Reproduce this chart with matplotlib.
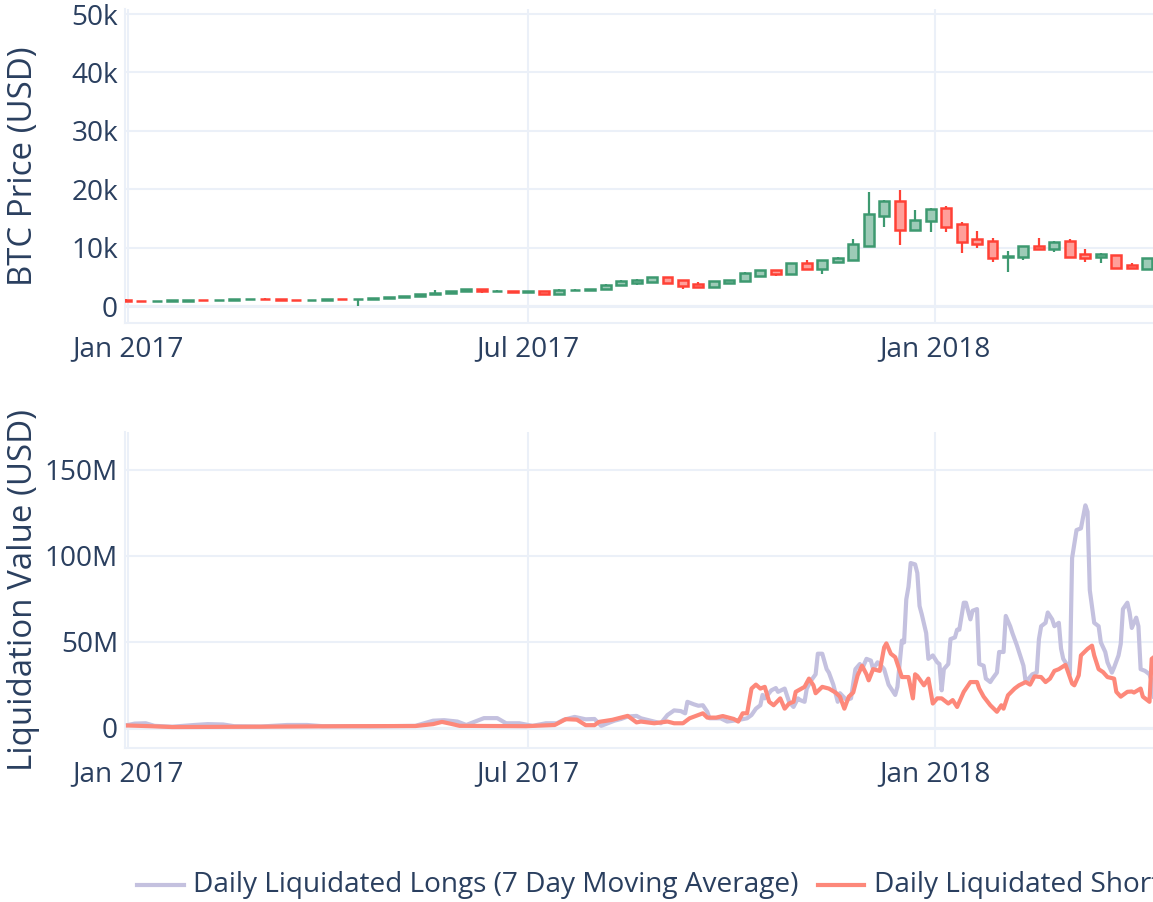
import matplotlib.pyplot as plt
import matplotlib.dates as mdates
from matplotlib.lines import Line2D
import numpy as np
import pandas as pd

plt.rcParams['font.family'] = ['Open Sans', 'DejaVu Sans']

# Candele settimanali BTC (USD), una ogni 7 giorni a partire da week_start
week_start = "2016-12-31"
opens = [960, 900, 820, 890, 915, 1005, 990, 1045, 1170, 1260, 1180, 1080, 960, 1070,
         1180, 1170, 1240, 1350, 1550, 1760, 2030, 2200, 2520, 2900, 2500, 2600, 2450,
         2550, 2050, 2700, 2780, 2880, 3600, 3950, 4050, 4950, 4400, 3800, 3300, 3950,
         4200, 5150, 6150, 5450, 7450, 6350, 7550, 7950, 10350, 15400, 17900, 13100,
         14500, 16700, 14000, 11400, 11100, 8450, 8400, 10200, 9700, 11100, 8900, 8400,
         8700, 7000, 6350]
highs = [1150, 910, 900, 925, 1010, 1040, 1050, 1180, 1280, 1290, 1250, 1100, 1080, 1200,
         1220, 1260, 1360, 1560, 1780, 2050, 2700, 2550, 2950, 2980, 2760, 2620, 2620,
         2600, 2900, 2900, 2950, 3700, 4400, 4550, 4980, 5000, 4450, 4050, 4350, 4500,
         5850, 6200, 6200, 7450, 7800, 7950, 8350, 11400, 19600, 18100, 19800, 16400,
         16700, 17050, 14300, 12900, 11600, 9400, 10250, 11600, 11050, 11500, 9700, 9100,
         8800, 7400, 8250]
lows = [880, 760, 810, 880, 910, 940, 980, 1040, 1160, 1120, 1060, 900, 950, 1060,
        1160, 50, 1230, 1340, 1540, 1740, 1900, 2100, 2450, 2250, 2450, 2300, 2400,
        1880, 1850, 2600, 2650, 2850, 3500, 3600, 4000, 3900, 2950, 3300, 3250, 3900,
        4150, 5100, 5200, 5400, 6300, 5450, 7500, 7900, 10300, 13500, 10400, 13000,
        12600, 12700, 9000, 10000, 7500, 5900, 7800, 9650, 9300, 8350, 7600, 7300,
        6500, 6400, 6300]
closes = [900, 820, 890, 915, 1005, 990, 1045, 1170, 1260, 1180, 1080, 960, 1070, 1180,
          1170, 1240, 1350, 1550, 1760, 2030, 2200, 2520, 2900, 2500, 2600, 2450, 2520,
          2050, 2750, 2780, 2880, 3650, 4250, 4450, 4950, 3950, 3350, 3330, 4300, 4480,
          5700, 6150, 5450, 7400, 6350, 7900, 8300, 10700, 15800, 17900, 13100, 14700,
          16600, 13500, 11000, 10600, 8200, 8600, 10200, 9700, 11000, 8400, 8300, 8900,
          6550, 6450, 8200]

# Liquidazioni giornaliere: giorni dal 2017-01-01, valori in milioni di USD
day_zero = "2017-01-01"
long_days = [0, 3, 8, 12, 20, 30, 36, 43, 48, 60, 72, 81, 88, 110, 130, 138, 143, 149,
             153, 161, 167, 171, 177, 183, 189, 194, 197, 202, 207, 211, 214, 220, 223,
             226, 230, 232, 238, 241, 244, 247, 250, 252, 253, 256, 258, 260, 262, 263,
             268, 271, 276, 280, 282, 284, 286, 287, 288, 291, 293, 294, 297, 299, 301,
             303, 304, 306, 307, 309, 311, 312, 314, 316, 317, 319, 321, 322, 325, 327,
             329, 331, 332, 334, 336, 337, 339, 340, 342, 344, 347, 348, 350, 351, 352,
             353, 354, 356, 357, 358, 359, 361, 362, 364, 366, 367, 368, 369, 371, 372,
             374, 375, 376, 378, 379, 381, 382, 384, 385, 387, 388, 390, 391, 393, 394,
             396, 397, 399, 400, 402, 403, 405, 406, 409, 411, 412, 413, 415, 416, 418,
             419, 421, 422, 423, 425, 426, 427, 428, 429, 431, 432, 433, 434, 435, 437,
             439, 440, 442, 443, 445, 446, 448, 449, 450, 452, 453, 454, 456, 457, 458,
             460, 462, 463, 464]
long_vals = [1.5, 2.3, 2.5, 1.0, 0.5, 1.5, 2.0, 1.8, 0.8, 0.6, 1.5, 1.5, 0.8, 0.7, 1.0,
             4.0, 4.3, 3.5, 1.5, 5.5, 5.5, 2.5, 2.5, 1.0, 2.5, 2.5, 4.5, 6.2, 4.8, 5.0,
             1.0, 4.0, 5.0, 6.4, 6.8, 5.4, 3.5, 2.5, 7.3, 10.0, 9.6, 8.3, 15.0, 13.5,
             12.7, 13.0, 9.2, 5.4, 5.4, 3.5, 4.4, 5.4, 7.3, 11.0, 13.0, 19.0, 17.0, 21.7,
             23.0, 20.8, 22.7, 15.0, 12.0, 17.0, 16.0, 15.0, 22.7, 27.5, 31.0, 43.0, 43.0,
             34.0, 32.0, 25.0, 15.0, 20.0, 16.0, 17.0, 34.0, 37.0, 34.0, 40.0, 39.0, 34.0,
             38.0, 37.0, 34.0, 25.0, 19.0, 23.7, 50.6, 49.6, 74.6, 82.0, 95.8, 95.0, 90.0,
             70.8, 66.0, 55.0, 40.0, 42.0, 38.0, 37.0, 21.7, 34.0, 37.0, 51.5, 52.5, 57.0,
             57.0, 72.7, 72.7, 63.0, 68.0, 69.0, 37.0, 36.0, 28.5, 26.5, 28.5, 32.0, 44.0,
             44.0, 65.0, 59.0, 55.0, 48.0, 44.0, 36.0, 26.5, 31.0, 32.0, 51.5, 59.0, 61.0,
             67.0, 63.0, 59.0, 61.0, 46.0, 40.0, 36.0, 31.0, 98.7, 107.0, 115.0, 116.0,
             122.7, 129.4, 125.6, 80.0, 61.0, 59.0, 49.6, 44.0, 38.0, 32.0, 35.0, 42.0,
             48.7, 69.0, 72.7, 67.0, 58.0, 64.0, 59.0, 34.0, 33.0, 31.0, 27.0, 18.0]
short_days = [0, 10, 20, 60, 100, 130, 138, 142, 146, 150, 180, 193, 198, 203, 207, 211,
              213, 219, 226, 230, 232, 238, 244, 247, 251, 254, 260, 262, 266, 269, 274,
              276, 278, 280, 282, 284, 286, 288, 290, 292, 295, 297, 299, 301, 302, 306,
              308, 310, 311, 314, 317, 320, 322, 324, 326, 328, 330, 332, 334, 335, 337,
              340, 342, 343, 345, 347, 350, 353, 355, 356, 357, 360, 362, 364, 366, 368,
              371, 373, 375, 378, 379, 381, 384, 385, 387, 390, 393, 395, 396, 398, 401,
              403, 406, 408, 410, 413, 415, 417, 419, 421, 424, 425, 427, 428, 430, 431,
              434, 436, 437, 439, 441, 443, 446, 447, 449, 452, 454, 455, 458, 459, 462,
              463, 464]
short_vals = [1.2, 0.8, 0.3, 0.5, 0.8, 0.9, 2.0, 3.3, 2.2, 1.0, 0.8, 1.5, 4.9, 4.6, 1.4,
              1.4, 3.3, 4.5, 6.8, 3.0, 3.5, 2.5, 3.5, 2.5, 2.5, 5.4, 8.3, 5.8, 5.8, 6.7,
              5.0, 3.5, 8.3, 8.3, 22.7, 25.0, 22.7, 23.7, 15.0, 13.0, 17.0, 11.0, 14.0,
              15.0, 20.8, 23.7, 28.5, 24.6, 20.0, 23.7, 22.7, 20.4, 18.0, 11.0, 18.0, 20.4,
              30.4, 36.0, 31.0, 27.5, 34.0, 33.0, 46.7, 49.0, 43.0, 41.0, 29.4, 29.4, 17.0,
              31.0, 30.0, 24.6, 28.5, 14.0, 17.0, 17.0, 14.0, 16.0, 12.0, 20.8, 22.7, 26.5,
              26.5, 22.7, 18.0, 13.0, 9.2, 13.0, 11.0, 18.8, 22.7, 24.6, 26.5, 25.0, 29.8,
              29.4, 26.5, 28.5, 33.0, 34.0, 36.5, 33.0, 25.6, 24.6, 30.4, 42.0, 45.8, 47.7,
              42.0, 34.0, 32.3, 29.4, 28.5, 20.8, 18.0, 20.8, 21.0, 20.4, 22.7, 18.0, 15.0,
              40.0, 41.0]

text_color = '#2a3f5f'
grid_color = '#EBF0F8'
up_color = '#3D9970'
down_color = '#FF4136'

fig = plt.figure(figsize=(11.53, 9.02), dpi=100)
W, H = 1153, 902
ax1 = fig.add_axes([125 / W, 1 - 323 / H, (W - 125) / W, 314 / H])
ax2 = fig.add_axes([125 / W, 1 - 748 / H, (W - 125) / W, 316 / H])

# --- candlestick ---
o = np.array(opens)
h = np.array(highs)
l = np.array(lows)
c = np.array(closes)
weeks = pd.date_range(week_start, periods=len(o), freq='7D')
xw = mdates.date2num(weeks)
cols = [up_color if cc >= oo else down_color for oo, cc in zip(o, c)]
ax1.vlines(xw, l, h, colors=cols, linewidth=1.6, zorder=3)
for xi, oo, cc, col in zip(xw, o, c, cols):
    ax1.bar(xi, max(abs(cc - oo), 60), bottom=min(oo, cc), width=4.5,
            facecolor=(1, 1, 1, 1), edgecolor=col, linewidth=1.8, zorder=4)
    ax1.bar(xi, max(abs(cc - oo), 60), bottom=min(oo, cc), width=4.5,
            facecolor=col, alpha=0.5, edgecolor='none', zorder=5)
ax1.set_ylim(-2910, 50860)
ax1.set_yticks([0, 10000, 20000, 30000, 40000, 50000])
ax1.set_yticklabels(['0', '10k', '20k', '30k', '40k', '50k'])
ax1.set_ylabel('BTC Price (USD)')

# --- liquidations ---
d0 = pd.Timestamp(day_zero)
long_dates = d0 + pd.to_timedelta(long_days, unit='D')
short_dates = d0 + pd.to_timedelta(short_days, unit='D')
ax2.plot(long_dates, np.array(long_vals) * 1e6, color='#c4c1df', linewidth=3.0,
         solid_joinstyle='round', zorder=3)
ax2.plot(short_dates, np.array(short_vals) * 1e6, color='#fd887a', linewidth=3.0,
         solid_joinstyle='round', zorder=4)
ax2.set_ylim(-11.9e6, 172.1e6)
ax2.set_yticks([0, 50e6, 100e6, 150e6])
ax2.set_yticklabels(['0', '50M', '100M', '150M'])
ax2.set_ylabel('Liquidation Value (USD)')

x_left = mdates.date2num(d0) + (125 - 128) / 2.211
x_right = mdates.date2num(d0) + (1153 - 128) / 2.211
tick_dates = pd.to_datetime(['2017-01-01', '2017-07-01', '2018-01-01'])

for ax in (ax1, ax2):
    ax.set_xlim(x_left, x_right)
    ax.set_xticks(mdates.date2num(tick_dates))
    ax.set_xticklabels(['Jan 2017', 'Jul 2017', 'Jan 2018'])
    ax.grid(True, color=grid_color, linewidth=1.5, zorder=0)
    ax.set_axisbelow(True)
    ax.axhline(0, color=grid_color, linewidth=2.2, zorder=1)
    for s in ('top', 'right'):
        ax.spines[s].set_visible(False)
    for s in ('left', 'bottom'):
        ax.spines[s].set_color(grid_color)
        ax.spines[s].set_linewidth(1.5)
    ax.tick_params(axis='both', length=0, labelsize=20.2, labelcolor=text_color)
    ax.tick_params(axis='y', pad=5)
    ax.tick_params(axis='x', pad=9)
    ax.yaxis.label.set_color(text_color)
    ax.yaxis.label.set_fontsize(23.8)
    ax.yaxis.set_label_coords(-0.083, 0.5)

# --- legenda (tagliata sul bordo destro come nell'originale) ---
ly = 1 - 885 / H
fig.add_artist(Line2D([137 / W, 184 / W], [ly, ly], color='#c4c1df', linewidth=3.0))
fig.text(193 / W, ly, 'Daily Liquidated Longs (7 Day Moving Average)', fontsize=20.2,
         color=text_color, va='center')
fig.add_artist(Line2D([818 / W, 864 / W], [ly, ly], color='#fd887a', linewidth=3.0))
fig.text(874 / W, ly, 'Daily Liquidated Shorts (7 Day Moving Average)', fontsize=20.2,
         color=text_color, va='center')

fig.savefig('out.png', dpi=100)
